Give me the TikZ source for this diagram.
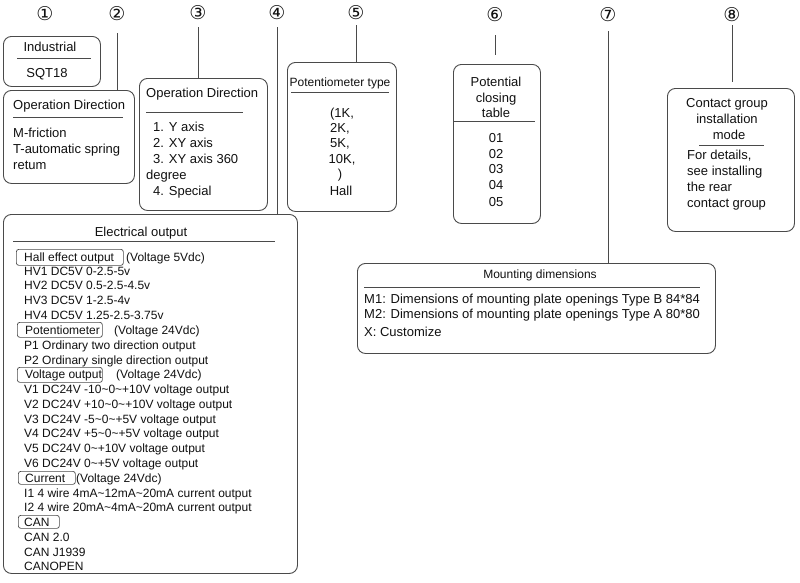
\documentclass[tikz,border=0pt]{standalone}
\usepackage{fontspec}
\setmainfont{Liberation Sans}
\newfontfamily\circfont{DejaVu Sans}
\definecolor{linegray}{HTML}{4A4A4A}
\definecolor{txtblack}{HTML}{111111}
\begin{document}
\begin{tikzpicture}[x=1pt,y=-1pt,
  box/.style={draw=linegray, line width=0.9pt, rounded corners=8pt, inner sep=0, anchor=north west},
  tag/.style={draw=linegray, line width=0.7pt, rounded corners=2.5pt, inner sep=0, anchor=north west},
  conn/.style={draw=linegray, line width=0.9pt},
  rule/.style={draw=linegray, line width=0.8pt},
  num/.style={font=\circfont\fontsize{19}{19}\selectfont, inner sep=0, text=txtblack},
  txt/.style={font=\fontsize{12}{12}\selectfont, inner sep=0, anchor=base west, text=txtblack},
  ctxt/.style={font=\fontsize{12}{12}\selectfont, inner sep=0, anchor=base, text=txtblack},
  ttl/.style={font=\fontsize{13}{13}\selectfont, inner sep=0, anchor=base west, text=txtblack},
  cttl/.style={font=\fontsize{13}{13}\selectfont, inner sep=0, anchor=base, text=txtblack}]
\fill[white] (0,0) rectangle (800,582);
\useasboundingbox (0,0) rectangle (800,582);

% circled numbers
\node[num] (n1) at (45,14) {①};
\node[num] (n2) at (117,14) {②};
\node[num] (n3) at (198,13) {③};
\node[num] (n4) at (277,13) {④};
\node[num] (n5) at (356,13) {⑤};
\node[num] (n6) at (495,15) {⑥};
\node[num] (n7) at (608,15) {⑦};
\node[num] (n8) at (732,15) {⑧};

% boxes
\node[box, minimum width=97pt, minimum height=50pt] (b1) at (3,36) {};
\node[box, minimum width=131pt, minimum height=93pt] (b2) at (3,90) {};
\node[box, minimum width=128pt, minimum height=132pt] (b3) at (139,78) {};
\node[box, minimum width=294pt, minimum height=359pt] (b4) at (3,214) {};
\node[box, minimum width=109pt, minimum height=149pt] (b5) at (287,62) {};
\node[box, minimum width=87pt, minimum height=159pt] (b6) at (453,64) {};
\node[box, minimum width=358pt, minimum height=90pt] (b7) at (357,263) {};
\node[box, minimum width=127pt, minimum height=143pt] (b8) at (667,88) {};

% connectors
\draw[conn, shorten <=19pt] (n2.center) -- (n2.center |- b2.north);
\draw[conn, shorten <=14pt] (n3.center) -- (n3.center |- b3.north);
\draw[conn, shorten <=14pt] (n4.center) -- (n4.center |- b4.north);
\draw[conn, shorten <=12pt] (n5.center) -- (n5.center |- b5.north);
\draw[conn, shorten <=20pt, shorten >=9pt] (n6.center) -- (n6.center |- b6.north);
\draw[conn, shorten <=16pt] (n7.center) -- (n7.center |- b7.north);
\draw[conn, shorten <=10pt, shorten >=6pt] (n8.center) -- (n8.center |- b8.north);

% box 1
\node[cttl] (t1a) at (50,51) {Industrial};
\draw[rule] (17,58) -- (91,58);
\node[cttl] (t1b) at (47,77) {SQT18};

% box 2
\node[ttl] (t2a) at (13,109) {Operation Direction};
\draw[rule] (13,117) -- (123,117);
\node[ttl] (t2b) at (13,137) {M-friction};
\node[ttl] (t2c) at (13,153) {T-automatic spring};
\node[ttl] (t2d) at (13,169) {retum};

% box 3
\node[ttl] (t3a) at (146,97) {Operation Direction};
\draw[rule] (146,112) -- (243,112);
\node[ttl] (t3b) at (153,131) {1. Y axis};
\node[ttl] (t3c) at (153,147) {2. XY axis};
\node[ttl] (t3d) at (153,163) {3. XY axis 360};
\node[ttl] (t3e) at (146,179) {degree};
\node[ttl] (t3f) at (153,195) {4. Special};

% box 5
\node[ctxt] (t5a) at (340,86) {Potentiometer type};
\draw[rule] (291,92) -- (389,92);
\node[cttl] (t5b) at (342,117) {(1K,};
\node[cttl] (t5c) at (340,132) {2K,};
\node[cttl] (t5d) at (340,147) {5K,};
\node[cttl] (t5e) at (342,163) {10K,};
\node[cttl] (t5f) at (340,178) {)};
\node[cttl] (t5g) at (341,195) {Hall};

% box 6
\node[cttl] (t6a) at (496,86) {Potential};
\node[cttl] (t6b) at (496,102) {closing};
\node[cttl] (t6c) at (496,117) {table};
\draw[rule] (454,121) -- (535,121);
\node[cttl] (t6d) at (496,142) {01};
\node[cttl] (t6e) at (496,158) {02};
\node[cttl] (t6f) at (496,173) {03};
\node[cttl] (t6g) at (496,189) {04};
\node[cttl] (t6h) at (496,206) {05};

% box 8
\node[cttl] (t8a) at (727,107) {Contact group};
\node[cttl] (t8b) at (727,123) {installation};
\node[cttl] (t8c) at (729,139) {mode};
\draw[rule] (699,145) -- (764,145);
\node[ttl] (t8d) at (687,159) {For details,};
\node[ttl] (t8e) at (687,175) {see installing};
\node[ttl] (t8f) at (687,191) {the rear};
\node[ttl] (t8g) at (687,207) {contact group};

% box 7 mounting
\node[ctxt] (t7a) at (540,278) {Mounting dimensions};
\draw[rule] (364,287) -- (700,287);
\node[ttl] (t7b) at (364,303) {M1: Dimensions of mounting plate openings Type B 84*84};
\node[ttl] (t7c) at (364,318) {M2: Dimensions of mounting plate openings Type A 80*80};
\node[ttl] (t7d) at (364,336) {X: Customize};

% box 4 electrical
\node[cttl] (t4a) at (141,236) {Electrical output};
\draw[rule] (13,241) -- (275,241);
\node[tag, minimum width=107pt, minimum height=16pt] (g1) at (16,249) {};
\node[txt] (e1) at (24,261) {Hall effect output};
\node[txt] (e1v) at (126,261) {(Voltage 5Vdc)};
\node[txt] (e2) at (24,275) {HV1 DC5V 0-2.5-5v};
\node[txt] (e3) at (24,289) {HV2 DC5V 0.5-2.5-4.5v};
\node[txt] (e4) at (24,304) {HV3 DC5V 1-2.5-4v};
\node[txt] (e5) at (24,319) {HV4 DC5V 1.25-2.5-3.75v};
\node[tag, minimum width=85pt, minimum height=15pt] (g2) at (17,322) {};
\node[txt] (e6) at (25,334) {Potentiometer};
\node[txt] (e6v) at (114,334) {(Voltage 24Vdc)};
\node[txt] (e7) at (24,349) {P1 Ordinary two direction output};
\node[txt] (e8) at (24,364) {P2 Ordinary single direction output};
\node[tag, minimum width=85pt, minimum height=15pt] (g3) at (17,367) {};
\node[txt] (e9) at (25,378) {Voltage output};
\node[txt] (e9v) at (116,378) {(Voltage 24Vdc)};
\node[txt] (e10) at (24,393) {V1 DC24V -10\textasciitilde 0\textasciitilde +10V voltage output};
\node[txt] (e11) at (24,408) {V2 DC24V +10\textasciitilde 0\textasciitilde +10V voltage output};
\node[txt] (e12) at (24,423) {V3 DC24V -5\textasciitilde 0\textasciitilde +5V voltage output};
\node[txt] (e13) at (24,437) {V4 DC24V +5\textasciitilde 0\textasciitilde +5V voltage output};
\node[txt] (e14) at (24,452) {V5 DC24V 0\textasciitilde +10V voltage output};
\node[txt] (e15) at (24,467) {V6 DC24V 0\textasciitilde +5V voltage output};
\node[tag, minimum width=57pt, minimum height=13pt] (g4) at (18,471) {};
\node[txt] (e16) at (25,482) {Current};
\node[txt] (e16v) at (76,482) {(Voltage 24Vdc)};
\node[txt] (e17) at (24,497) {I1 4 wire 4mA\textasciitilde 12mA\textasciitilde 20mA current output};
\node[txt] (e18) at (24,511) {I2 4 wire 20mA\textasciitilde 4mA\textasciitilde 20mA current output};
\node[tag, minimum width=41pt, minimum height=13pt] (g5) at (18,515) {};
\node[txt] (e19) at (24,526) {CAN};
\node[txt] (e20) at (24,541) {CAN 2.0};
\node[txt] (e21) at (24,556) {CAN J1939};
\node[txt] (e22) at (24,570) {CANOPEN};
\end{tikzpicture}
\end{document}
